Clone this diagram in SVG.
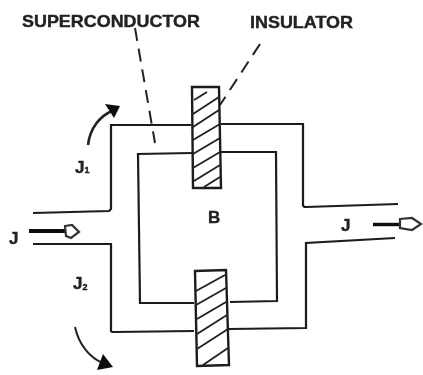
<svg xmlns="http://www.w3.org/2000/svg" width="423" height="375" viewBox="0 0 423 375">
<style>
.l{fill:none;stroke:#1c1c1c;stroke-width:2.2}
.t{font-family:"Liberation Sans",Arial,sans-serif;font-weight:bold;fill:#222;stroke:#222;stroke-width:.4}
.s{font-size:9px}
.h{fill:none;stroke:#222;stroke-width:1.9}
.d{fill:none;stroke:#222;stroke-width:2;stroke-dasharray:13 8}
.ins{fill:#fff;stroke:#1c1c1c;stroke-width:2.4}
</style>
<defs>
<filter id="soft" x="-5%" y="-5%" width="110%" height="110%"><feGaussianBlur stdDeviation="0.5"/></filter>
</defs>
<rect width="423" height="375" fill="#fff"/>
<g filter="url(#soft)">
<g id="connectors">
<path class="l" d="M33 213L109 211L111 209V125L191 125"/>
<path class="l" d="M221 124H303V205Q303 207 306 207L398 204"/>
<path class="l" d="M33 244H111V331Q111 332 114 332L194 331"/>
<path class="l" d="M229 329L306 328V243L395 238"/>
<path class="l" d="M192 153L138 154L140 303L194 303"/>
<path class="l" d="M221 152H276L277 301L230 302"/>
<path class="d" d="M135 28L155 143"/>
<path class="d" d="M260 44L220 105"/>
<path fill="none" stroke="#222" stroke-width="2.6" d="M88 145C90 128 100 116 112 111"/>
<path fill="#111" d="M105 104L120 106L114 118Z"/>
<path fill="none" stroke="#222" stroke-width="2" d="M75 327C79 345 90 358 103 363"/>
<path fill="#111" d="M103 354L113 367L97 370Z"/>
<path fill="none" stroke="#111" stroke-width="4" d="M29 231H66"/>
<path fill="#fff" stroke="#333" stroke-width="2.2" d="M65 226L72 225L79 232L71 238L66 236Z"/>
<path fill="none" stroke="#111" stroke-width="3.4" d="M373 224.500H401"/>
<path fill="#fff" stroke="#333" stroke-width="2.2" d="M400 219L412 218L421 224L412 230L400 228Z"/>
</g>
<g id="insulator-top">
<path class="ins" d="M192 87H219L221 188H193Z"/>
<path class="h" d="M194 100L207 92M193 114L219 97M193 127L219 110M193 140L220 124M193 154L220 138M193 168L220 152M194 181L220 165M204 187L220 177"/>
</g>
<g id="insulator-bottom">
<path class="ins" d="M195 271L226 270L229 365L197 366Z"/>
<path class="h" d="M196 291L225 275M196 305L226 288M197 319L226 302M197 334L227 315M197 349L228 329M203 365L228 348"/>
</g>
<g id="label-superconductor"><text class="t" x="22" y="27" font-size="17" textLength="178" lengthAdjust="spacingAndGlyphs">SUPERCONDUCTOR</text></g>
<g id="label-insulator"><text class="t" x="250" y="28" font-size="17" textLength="103" lengthAdjust="spacingAndGlyphs">INSULATOR</text></g>
<g id="label-j1"><text class="t" x="75" y="173" font-size="17">J<tspan class="s">1</tspan></text></g>
<g id="label-j2"><text class="t" x="73" y="289" font-size="17">J<tspan class="s" dy="1">2</tspan></text></g>
<g id="label-j-left"><text class="t" x="9" y="244" font-size="17">J</text></g>
<g id="label-j-right"><text class="t" x="341" y="231" font-size="17">J</text></g>
<g id="label-b"><text class="t" x="208" y="223" font-size="17">B</text></g>
</g>
</svg>
